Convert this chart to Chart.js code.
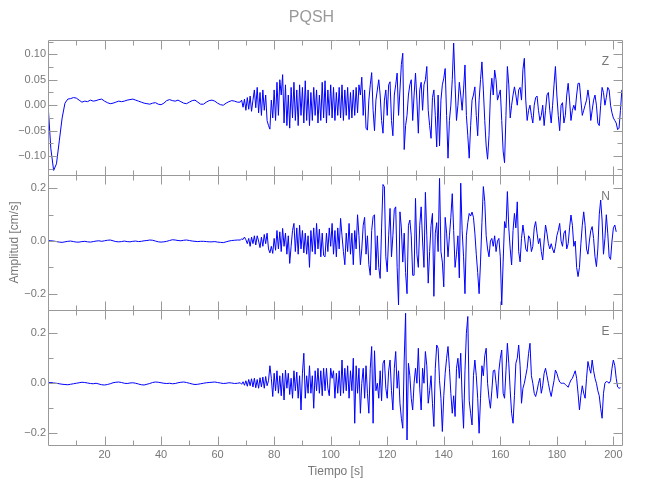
<!DOCTYPE html>
<html>
<head>
<meta charset="utf-8">
<script src="https://cdn.jsdelivr.net/npm/chart.js@4.4.1/dist/chart.umd.min.js"></script>
<style>
  html, body { margin: 0; padding: 0; background: #fff; }
</style>
</head>
<body>
<canvas id="seis" width="650" height="500"></canvas>
<script>
const quietStart = 0, quietStep = 1;     // pre-event part, 1 s
const activeStart = 68, activeStep = 0.5; // event part, 0.5 s

const panelNames = ['Z', 'N', 'E'];

// ---- Z component (cm/s) ----
const zQuiet = [
  0.003, -0.085, -0.128, -0.115, -0.070, -0.025, 0.004, 0.012, 0.013, 0.015,
  0.014, 0.010, 0.006, 0.008, 0.007, 0.010, 0.008, 0.009, 0.011, 0.012,
  0.008, 0.005, 0.003, 0.004, 0.006, 0.008, 0.007, 0.008, 0.010, 0.011,
  0.012, 0.010, 0.008, 0.006, 0.004, 0.003, 0.002, 0.004, 0.005, 0.002,
  0.001, 0.004, 0.009, 0.011, 0.009, 0.008, 0.010, 0.007, 0.004, 0.003,
  0.006, 0.009, 0.010, 0.006, 0.002, 0.002, 0.006, 0.009, 0.010, 0.008,
  0.004, 0.001, 0.000, 0.004, 0.007, 0.009, 0.008, 0.006
];
const zActive = [
  0.006, 0.010, -0.004, 0.012, -0.010, 0.015, -0.008, 0.018, -0.012, 0.010,
  0.030, -0.005, 0.035, -0.015, 0.025, -0.020, 0.030, -0.010, 0.020, -0.030,
  -0.040, -0.047, 0.010, -0.025, 0.030, -0.030, 0.045, -0.020, 0.050, 0.020,
  0.060, -0.035, 0.040, -0.040, 0.020, -0.045, 0.035, -0.025, 0.045, -0.030,
  0.030, -0.040, 0.040, -0.020, 0.035, -0.035, 0.048, -0.030, 0.030, -0.040,
  0.025, -0.030, 0.035, -0.020, 0.030, -0.035, 0.020, -0.030, 0.045, -0.025,
  0.048, -0.035, 0.030, -0.020, 0.040, -0.025, 0.035, -0.030, 0.025, -0.020,
  0.035, -0.025, 0.040, -0.030, 0.030, -0.020, 0.035, -0.028, 0.025, -0.025,
  0.030, -0.020, 0.035, -0.015, 0.040, 0.020, 0.055, -0.020, 0.030, -0.045,
  -0.049, 0.010, 0.040, 0.064, -0.010, -0.050, 0.010, 0.030, 0.050, 0.020,
  -0.030, -0.055, 0.010, 0.030, -0.020, 0.040, 0.046, -0.030, -0.060, 0.020,
  0.040, 0.063, -0.020, 0.030, 0.080, 0.102, -0.087, -0.040, -0.020, 0.020,
  0.040, 0.050, -0.030, 0.020, 0.063, 0.010, -0.055, 0.030, 0.045, -0.010,
  0.040, 0.050, 0.076, -0.010, -0.040, -0.065, 0.015, 0.030, -0.020, -0.082,
  0.020, -0.080, 0.010, 0.040, 0.053, 0.072, -0.020, -0.104, -0.030, 0.000,
  0.050, 0.122, 0.040, -0.030, 0.000, 0.045, 0.020, -0.010, 0.030, 0.079,
  -0.020, -0.060, -0.104, -0.040, 0.010, 0.020, 0.036, -0.020, -0.060, 0.010,
  0.050, 0.085, 0.030, -0.030, -0.080, -0.106, -0.060, 0.020, 0.053, 0.020,
  0.069, 0.050, 0.010, 0.020, 0.030, -0.030, -0.090, -0.113, -0.020, 0.076,
  0.040, -0.025, 0.000, 0.020, 0.036, 0.020, 0.000, 0.030, 0.035, 0.010,
  0.070, 0.092, 0.010, -0.030, -0.010, 0.000, -0.020, -0.035, 0.000, 0.015,
  0.018, -0.010, -0.030, -0.020, 0.000, -0.040, -0.010, 0.020, 0.025, -0.010,
  -0.035, 0.000, 0.040, 0.076, 0.020, -0.020, -0.050, 0.000, 0.005, -0.035,
  -0.020, 0.020, 0.043, 0.010, -0.030, -0.010, 0.000, -0.010, 0.020, 0.043,
  0.043, 0.010, -0.020, -0.010, 0.000, 0.010, 0.030, 0.010, -0.030, -0.010,
  0.010, 0.020, 0.000, -0.035, -0.040, 0.000, 0.035, 0.025, 0.000, 0.015,
  0.035, 0.030, 0.000, -0.015, -0.025, -0.030, -0.035, -0.048, -0.045, -0.010,
  0.030
];

// ---- N component ----
const nQuiet = [
  0.002, 0.001, 0.000, -0.002, -0.004, -0.005, -0.003, -0.001, 0.000, -0.002,
  -0.004, -0.004, -0.002, -0.001, -0.003, -0.004, -0.002, 0.000, 0.001, -0.001,
  0.001, 0.003, 0.004, 0.001, -0.002, -0.003, -0.002, 0.000, -0.002, -0.003,
  -0.001, 0.000, -0.002, -0.001, 0.001, 0.002, 0.004, 0.003, 0.000, -0.003,
  -0.004, -0.003, -0.001, 0.002, 0.005, 0.004, 0.002, 0.001, 0.003, 0.004,
  0.002, 0.000, -0.001, -0.002, -0.001, -0.001, -0.002, -0.003, -0.003, -0.002,
  -0.004, -0.005, -0.006, -0.003, 0.000, 0.002, 0.003, 0.004
];
const nActive = [
  0.004, 0.008, 0.006, 0.015, 0.005, -0.010, 0.010, -0.020, 0.015, -0.010,
  0.020, -0.015, 0.020, 0.000, -0.025, 0.015, -0.020, 0.025, -0.010, 0.030,
  -0.030, -0.045, -0.020, -0.047, 0.010, -0.035, 0.040, -0.030, 0.035, -0.040,
  0.048, -0.020, 0.030, -0.050, 0.020, -0.085, -0.020, 0.040, 0.067, -0.040,
  0.050, -0.050, 0.060, -0.030, 0.040, -0.045, 0.030, -0.050, 0.020, -0.100,
  0.040, -0.040, 0.050, -0.050, 0.067, -0.030, 0.045, -0.060, 0.030, -0.055,
  -0.060, 0.030, -0.040, 0.050, -0.020, 0.067, -0.050, 0.040, -0.060, 0.050,
  -0.030, 0.086, 0.020, -0.040, -0.090, 0.030, -0.040, 0.067, -0.050, 0.030,
  -0.090, 0.040, -0.030, 0.100, 0.020, -0.090, -0.030, 0.060, 0.090, -0.050,
  0.020, -0.090, -0.130, 0.040, 0.093, 0.100, -0.110, 0.020, -0.100, -0.142,
  0.050, 0.215, 0.206, -0.060, -0.117, 0.020, 0.124, -0.060, 0.020, 0.120,
  0.130, -0.100, -0.243, 0.111, 0.050, -0.080, 0.030, -0.120, -0.200, 0.060,
  0.080, 0.020, -0.130, -0.130, 0.162, -0.050, -0.100, 0.060, 0.130, 0.000,
  -0.100, 0.185, 0.020, -0.160, -0.040, 0.060, 0.105, -0.210, 0.030, 0.070,
  -0.040, 0.238, -0.040, -0.080, -0.174, 0.090, 0.030, -0.060, 0.020, 0.090,
  0.180, 0.040, -0.100, -0.050, 0.020, -0.140, 0.220, 0.040, -0.060, -0.200,
  0.020, 0.070, 0.105, 0.095, 0.110, 0.090, 0.030, -0.050, -0.120, -0.200,
  -0.080, 0.070, 0.207, 0.150, 0.020, -0.030, -0.060, 0.000, 0.010, -0.020,
  0.020, -0.040, 0.000, 0.010, -0.060, -0.243, -0.080, 0.074, 0.050, 0.188,
  0.050, -0.030, -0.091, 0.040, 0.105, 0.050, 0.149, -0.040, -0.079, 0.010,
  0.061, 0.020, -0.030, -0.040, 0.020, 0.010, -0.040, -0.020, 0.050, 0.074,
  0.030, -0.010, 0.010, -0.040, -0.072, 0.000, 0.061, 0.030, -0.010, -0.030,
  -0.010, -0.030, -0.045, -0.020, 0.020, 0.040, 0.067, 0.000, -0.020, 0.030,
  0.040, -0.030, -0.010, 0.050, 0.099, 0.060, -0.020, 0.000, -0.100, -0.135,
  -0.100, -0.010, 0.060, 0.111, 0.060, -0.030, -0.050, 0.000, 0.040, 0.055,
  0.010, -0.060, -0.097, -0.030, 0.100, 0.156, 0.080, -0.050, 0.010, 0.100,
  0.030, -0.060, -0.070, 0.000, 0.050, 0.061, 0.035
];

// ---- E component ----
const eQuiet = [
  0.002, 0.003, 0.001, 0.000, -0.002, -0.004, -0.005, -0.006, -0.004, -0.002,
  0.000, 0.002, 0.004, 0.003, 0.001, -0.001, -0.002, 0.000, -0.003, -0.006,
  -0.007, -0.005, -0.002, 0.002, 0.004, 0.005, 0.003, 0.000, -0.001, 0.001,
  0.002, 0.000, -0.003, -0.006, -0.007, -0.004, -0.001, 0.003, 0.005, 0.004,
  0.002, 0.000, -0.001, 0.000, -0.002, -0.001, 0.002, 0.004, 0.005, 0.003,
  0.000, -0.003, -0.005, -0.004, -0.002, 0.000, 0.002, 0.003, 0.004, 0.005,
  0.003, 0.001, -0.001, 0.000, 0.002, 0.001, -0.001, 0.000
];
const eActive = [
  0.002, -0.004, 0.006, -0.008, 0.010, -0.012, 0.015, -0.010, 0.018, -0.015,
  0.020, -0.018, 0.015, -0.020, 0.022, -0.015, 0.025, -0.020, 0.027, -0.010,
  0.010, 0.070, 0.020, -0.053, 0.040, -0.030, 0.050, -0.040, 0.030, -0.050,
  0.040, -0.067, 0.053, -0.020, 0.040, -0.045, 0.020, -0.060, 0.050, -0.030,
  0.045, -0.060, 0.030, -0.107, 0.040, 0.120, -0.060, 0.030, -0.040, 0.070,
  -0.040, 0.030, -0.100, 0.050, -0.030, 0.060, -0.040, 0.050, -0.050, 0.060,
  -0.030, 0.060, -0.020, -0.050, 0.060, 0.020, 0.050, -0.060, 0.040, -0.040,
  0.050, -0.050, 0.093, -0.040, 0.060, -0.030, 0.070, -0.060, 0.050, -0.030,
  0.100, -0.160, 0.070, -0.040, 0.060, -0.120, 0.000, 0.060, -0.060, 0.070,
  -0.040, -0.120, 0.060, 0.147, -0.160, 0.130, -0.030, 0.000, -0.060, 0.050,
  -0.070, 0.080, 0.093, -0.020, -0.060, 0.050, 0.093, -0.030, -0.107, 0.060,
  0.127, -0.020, 0.050, -0.080, -0.140, -0.180, 0.093, 0.280, -0.227, 0.080,
  0.030, -0.060, -0.107, 0.000, 0.060, 0.000, 0.140, -0.020, -0.107, 0.060,
  0.000, 0.127, 0.070, -0.080, -0.030, 0.030, -0.080, -0.173, 0.060, 0.153,
  0.140, 0.010, -0.060, -0.193, -0.050, 0.040, 0.100, 0.147, 0.060, -0.040,
  -0.120, -0.050, -0.133, 0.060, 0.100, 0.020, 0.120, -0.060, -0.180, 0.050,
  0.200, 0.267, -0.070, -0.120, -0.167, 0.030, 0.093, 0.030, -0.060, -0.200,
  -0.060, 0.070, 0.030, 0.110, 0.140, 0.000, -0.060, -0.100, -0.030, 0.050,
  0.053, 0.000, -0.060, 0.050, 0.100, 0.133, -0.040, -0.060, 0.050, 0.160,
  0.080, -0.030, -0.120, -0.160, -0.050, 0.080, 0.100, 0.153, 0.070, -0.080,
  -0.020, 0.000, 0.030, 0.060, 0.120, 0.160, 0.030, 0.000, -0.040, -0.053,
  -0.030, 0.000, 0.020, -0.040, -0.010, 0.040, 0.060, 0.030, 0.000, -0.030,
  -0.053, -0.020, 0.010, 0.053, 0.040, 0.020, 0.005, 0.000, 0.000, 0.000,
  -0.005, -0.010, -0.016, 0.000, 0.013, 0.020, 0.035, 0.050, 0.020, -0.040,
  -0.107, -0.050, -0.010, -0.040, -0.060, 0.020, 0.087, 0.060, 0.040, 0.093,
  0.050, 0.020, 0.000, -0.030, -0.050, -0.100, -0.140, -0.040, 0.000, 0.007,
  0.005, 0.000, 0.010, 0.060, 0.093, 0.070, 0.020, -0.015, -0.020, -0.018
];

// axis limits and ticks
const timeMax = 203.4;
const xMajorStep = 20, xMinorStep = 10;
const yLimits = [[-0.137, 0.128], [-0.262, 0.251], [-0.247, 0.293]];
const yMajorSteps = [0.05, 0.2, 0.2];
const yDecimals = [2, 1, 1];

const frameColor = '#999999';
const textColor = '#777777';
const fontFamily = "'Liberation Sans', Arial, sans-serif";

function toPoints(quiet, active) {
    const pts = quiet.map((v, i) => ({ x: quietStart + i * quietStep, y: v }));
    active.forEach((v, i) => pts.push({ x: activeStart + i * activeStep, y: v }));
    return pts;
}

const traces = [toPoints(zQuiet, zActive), toPoints(nQuiet, nActive), toPoints(eQuiet, eActive)];
const axisIds = ['yZ', 'yN', 'yE'];

function fmtTick(dec) {
    return function (v) {
        if (Math.abs(v) < 1e-9) v = 0;
        const s = Math.abs(v).toFixed(dec);
        return v < 0 ? '\u2212' + s : s;
    };
}

// frame box + inward ticks on all four sides of every panel, IDL style
const panelFrames = {
    id: 'panelFrames',
    afterDraw(chart) {
        const ctx = chart.ctx;
        const xs = chart.scales.x;
        const left = Math.round(chart.chartArea.left) + 0.5;
        const right = Math.round(chart.chartArea.right) - 0.5;
        const majorLen = 9, minorLen = 5;
        ctx.save();
        axisIds.forEach((id, k) => {
            const ys = chart.scales[id];
            const top = Math.round(ys.top) + 0.5;
            const bottom = Math.round(ys.bottom) + 0.5;
            ctx.strokeStyle = frameColor;
            ctx.lineWidth = 1;
            ctx.beginPath();
            ctx.rect(left, top, right - left, bottom - top);
            for (let i = 1; i * xMinorStep <= xs.max; i++) {
                const len = (i % 2 === 0) ? majorLen : minorLen;
                const x = Math.round(xs.getPixelForValue(i * xMinorStep)) + 0.5;
                ctx.moveTo(x, top); ctx.lineTo(x, top + len);
                ctx.moveTo(x, bottom); ctx.lineTo(x, bottom - len);
            }
            const minor = yMajorSteps[k] / 2;
            for (let i = Math.ceil(ys.min / minor); i * minor <= ys.max; i++) {
                const len = (i % 2 === 0) ? majorLen : minorLen;
                const y = Math.round(ys.getPixelForValue(i * minor)) + 0.5;
                ctx.moveTo(left, y); ctx.lineTo(left + len, y);
                ctx.moveTo(right, y); ctx.lineTo(right - len, y);
            }
            ctx.stroke();
            ctx.fillStyle = textColor;
            ctx.font = '12px ' + fontFamily;
            ctx.textAlign = 'center';
            ctx.textBaseline = 'middle';
            ctx.fillText(panelNames[k], right - 17, top + 21);
        });
        ctx.restore();
    }
};

const scales = {
    x: {
        type: 'linear',
        position: 'bottom',
        min: 0,
        max: timeMax,
        grid: { display: false, drawTicks: false },
        border: { display: false },
        ticks: {
            stepSize: xMajorStep,
            includeBounds: false,
            autoSkip: false,
            maxRotation: 0,
            padding: 3,
            color: textColor,
            font: { family: fontFamily, size: 11 },
            callback: v => (v === 0 ? '' : String(v))
        },
        title: {
            display: true,
            text: 'Tiempo [s]',
            color: textColor,
            font: { family: fontFamily, size: 12 },
            padding: { top: 0, bottom: 20.8 }
        },
        afterFit: s => { s.height = 55; s.paddingLeft = 0; s.paddingRight = 0; }
    }
};

// left axes in one stack: the last one defined ends up on top, so add E, N, Z
[2, 1, 0].forEach(k => {
    const id = axisIds[k];
    scales[id] = {
        type: 'linear',
        position: 'left',
        stack: 'seismo',
        stackWeight: 1,
        min: yLimits[k][0],
        max: yLimits[k][1],
        grid: { display: false, drawTicks: false },
        border: { display: false },
        ticks: {
            stepSize: yMajorSteps[k],
            includeBounds: false,
            padding: 2,
            color: textColor,
            font: { family: fontFamily, size: 11 },
            callback: fmtTick(yDecimals[k])
        },
        title: {
            display: id === 'yN',
            text: 'Amplitud [cm/s]',
            color: textColor,
            font: { family: fontFamily, size: 12 },
            padding: { top: 7, bottom: 0 }
        },
        afterFit: s => { s.width = 48; s.paddingTop = 0; s.paddingBottom = 0; }
    };
});

new Chart(document.getElementById('seis'), {
    type: 'line',
    data: {
        datasets: traces.map((pts, k) => ({
            label: panelNames[k],
            data: pts,
            yAxisID: axisIds[k],
            xAxisID: 'x',
            borderColor: '#0000ff',
            borderWidth: 1,
            pointRadius: 0,
            fill: false,
            tension: 0
        }))
    },
    options: {
        responsive: false,
        devicePixelRatio: 1,
        animation: false,
        events: [],
        layout: { padding: { left: 0, right: 27, top: 0, bottom: 0 } },
        plugins: {
            legend: { display: false },
            tooltip: { enabled: false },
            title: {
                display: true,
                text: 'PQSH',
                color: '#999999',
                font: { family: fontFamily, size: 16, weight: 'normal' },
                padding: { top: 8, bottom: 12.8 }
            }
        },
        scales: scales
    },
    plugins: [panelFrames]
});
</script>
</body>
</html>
